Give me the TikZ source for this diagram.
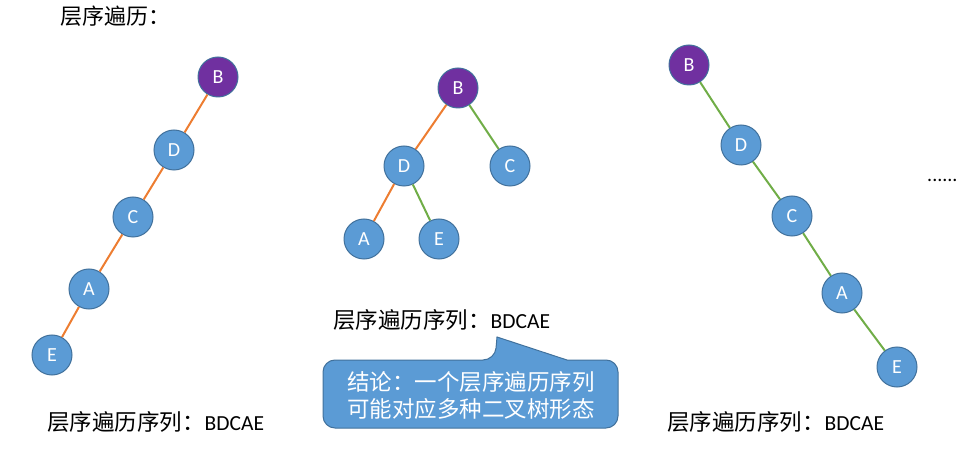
\documentclass[tikz,border=0pt]{standalone}
\usepackage{fontspec}
\setmainfont{Carlito}
\newfontfamily\cjk{Noto Sans CJK SC}
\definecolor{nodeblue}{HTML}{5B9BD5}
\definecolor{nodeedge}{HTML}{41719C}
\definecolor{rootpurple}{HTML}{7030A0}
\definecolor{edgeorange}{HTML}{ED7D31}
\definecolor{edgegreen}{HTML}{70AD47}
\begin{document}
\begin{tikzpicture}[x=1pt,y=-1pt,
        vertex/.style={circle,draw=nodeedge,line width=1pt,fill=nodeblue,text=white,
            minimum size=40pt,inner sep=0pt,font=\fontsize{20}{20}\selectfont},
        root/.style={vertex,fill=rootpurple},
        oedge/.style={draw=edgeorange,line width=2pt},
        gedge/.style={draw=edgegreen,line width=2pt},
        seqtext/.style={anchor=west,inner sep=0pt,font=\fontsize{21.5}{21.5}\selectfont}]
        \useasboundingbox (0,0) rectangle (977,454);

        \node[anchor=west,inner sep=0pt,font=\cjk\fontsize{22}{22}\selectfont] (title) at (60,16) {层序遍历：};

        % first tree
        \node[root] (t1b) at (218,77) {B};
        \node[vertex] (t1d) at (174,150) {D};
        \node[vertex] (t1c) at (133,217) {C};
        \node[vertex] (t1a) at (89,289) {A};
        \node[vertex] (t1e) at (52,355) {E};
        \draw[oedge] (t1b) -- (t1d);
        \draw[oedge] (t1d) -- (t1c);
        \draw[oedge] (t1c) -- (t1a);
        \draw[oedge] (t1a) -- (t1e);
        \node[seqtext] (seq1) at (47,422) {{\cjk\fontsize{22.5}{22.5}\selectfont 层序遍历序列：}BDCAE};

        % second tree
        \node[root] (t2b) at (458,88) {B};
        \node[vertex] (t2d) at (404,166) {D};
        \node[vertex] (t2c) at (510,166) {C};
        \node[vertex] (t2a) at (364,239) {A};
        \node[vertex] (t2e) at (439,239) {E};
        \draw[oedge] (t2b) -- (t2d);
        \draw[gedge] (t2b) -- (t2c);
        \draw[oedge] (t2d) -- (t2a);
        \draw[gedge] (t2d) -- (t2e);
        \node[seqtext] (seq2) at (333,320) {{\cjk\fontsize{22.5}{22.5}\selectfont 层序遍历序列：}BDCAE};

        % third tree
        \node[root] (t3b) at (689,65) {B};
        \node[vertex] (t3d) at (741,145) {D};
        \node[vertex] (t3c) at (792,216) {C};
        \node[vertex] (t3a) at (842,293) {A};
        \node[vertex] (t3e) at (897,367) {E};
        \draw[gedge] (t3b) -- (t3d);
        \draw[gedge] (t3d) -- (t3c);
        \draw[gedge] (t3c) -- (t3a);
        \draw[gedge] (t3a) -- (t3e);
        \node[seqtext] (seq3) at (667,422) {{\cjk\fontsize{22.5}{22.5}\selectfont 层序遍历序列：}BDCAE};

        \node[anchor=west,inner sep=0pt,font=\fontsize{20}{20}\selectfont] (more) at (927,180) {......};

        % callout
        \draw[fill=nodeblue,draw=nodeedge,line width=1pt,rounded corners=12pt]
            (323,394) |- (495,360) [sharp corners] -- (497,337) -- (567,360)
            [rounded corners=12pt] -| (618,394) |- (323,428) -- cycle;
        \node[align=center,text=white,inner sep=0pt,font=\cjk\fontsize{22.5}{27}\selectfont] (note) at (471,395)
            {结论：一个层序遍历序列\\可能对应多种二叉树形态};
\end{tikzpicture}
\end{document}
